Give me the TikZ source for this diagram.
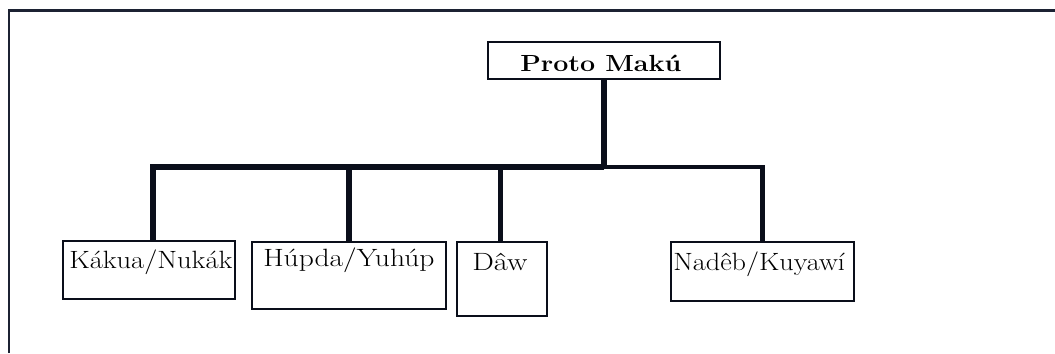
\documentclass[tikz,border=0pt]{standalone}
\usepackage{fontspec}
\setmainfont{Latin Modern Roman}
\usepackage{graphicx}
\definecolor{ink}{HTML}{0A0E1A}
\definecolor{frameink}{HTML}{1C2233}
\begin{document}
\begin{tikzpicture}[x=0.75pt,y=-0.75pt,
  box/.style={draw=ink,line width=1.2pt,inner sep=0pt,fill=white},
  lbl/.style={anchor=base west,inner sep=0pt,text=black,font=\fontsize{18.75}{22}\selectfont},
  title/.style={anchor=base west,inner sep=0pt,text=black,font=\fontsize{17.5}{20}\selectfont\bfseries},
  conn/.style={draw=ink,line width=4pt,line join=miter,line cap=butt},
  frame/.style={draw=frameink,line width=1.9pt}]
\useasboundingbox (0,0) rectangle (1055,353);
\draw[frame] (9,353) -- (9,10.5) -- (1055,10.5);
% boxes
\node[box,minimum width=232*0.75pt,minimum height=37*0.75pt] (pm) at (604,60.5) {};
\node[box,minimum width=172*0.75pt,minimum height=58*0.75pt] (kak) at (149,270) {};
\node[box,minimum width=194*0.75pt,minimum height=67*0.75pt] (hup) at (349,275.5) {};
\node[box,minimum width=90*0.75pt,minimum height=74*0.75pt] (daw) at (502,279) {};
\node[box,minimum width=183*0.75pt,minimum height=59*0.75pt] (nad) at (762.5,271.5) {};
% labels
\node[title] (pmt) at (520,71) {\scalebox{1.15}[1]{Proto Makú}};
\node[lbl] (kakt) at (69,268) {\scalebox{1.14}[1]{Kákua/Nukák}};
\node[lbl] (hupt) at (263,266.5) {\scalebox{1.18}[1]{Húpda/Yuhúp}};
\node[lbl] (dawt) at (472,270) {\scalebox{1.22}[1]{Dâw}};
\node[lbl] (nadt) at (673,270) {\scalebox{1.13}[1]{Nadêb/Kuyawí}};
% connectors
\coordinate (j) at (604,167);
\draw[conn] (pm.south) -- (j);
\draw[conn] (j) -| ([xshift=3]kak.north);
\draw[conn] (j) -| (hup.north);
\draw[conn] (j) -| ([xshift=-1]daw.north);
\draw[conn,line width=3.5pt] (j) -| (nad.north);
\end{tikzpicture}
\end{document}
